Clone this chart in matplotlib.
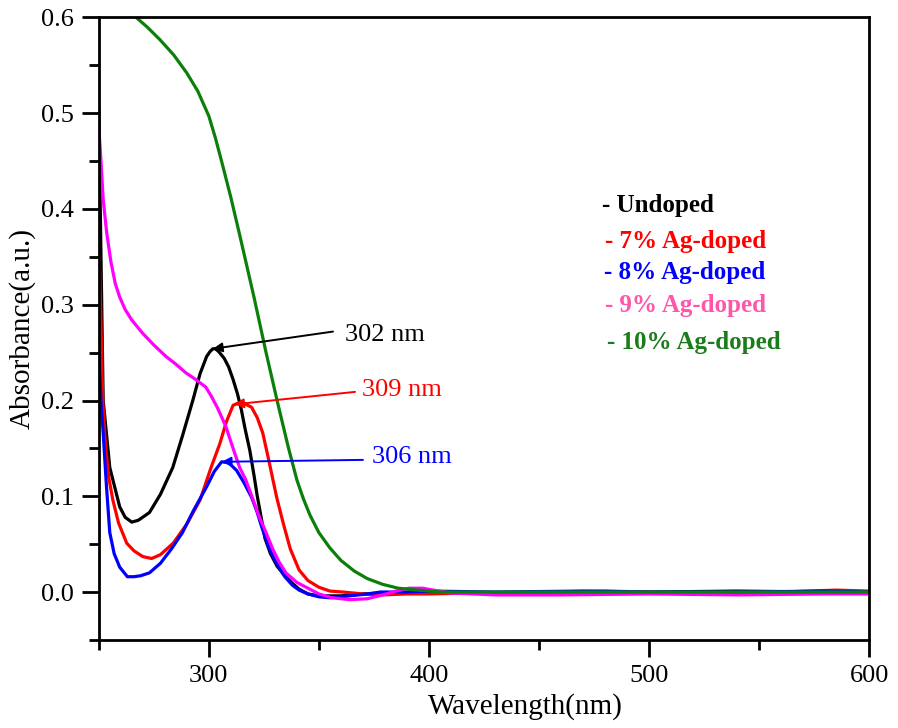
#!/usr/bin/env python3
'''UV-vis absorbance of undoped and Ag-doped samples'''
import matplotlib
matplotlib.use('Agg')
import matplotlib.pyplot as plt
from matplotlib.ticker import MultipleLocator

plt.rcParams['font.family'] = ['Liberation Serif', 'DejaVu Serif']

# spectra (wavelength nm, absorbance a.u.)
x_undoped = [250, 251, 252, 255, 259.5, 262, 265, 268, 273, 278, 283.6, 288, 292.7,
             296, 299, 300.5, 301.8, 303, 304.5, 307, 309, 311, 313, 314.8, 316.5,
             318.6, 320.5, 322, 324, 325.5, 328, 331, 334.5, 338, 341, 345, 350, 360,
             370, 380, 400, 430, 460, 500, 540, 580, 600]
y_undoped = [0.505, 0.35, 0.2, 0.13, 0.089, 0.078, 0.073, 0.075, 0.083, 0.102, 0.13,
             0.163, 0.2, 0.228, 0.246, 0.251, 0.254, 0.254, 0.251, 0.244, 0.235,
             0.222, 0.207, 0.19, 0.17, 0.148, 0.122, 0.1, 0.075, 0.056, 0.04, 0.027,
             0.017, 0.009, 0.003, -0.002, -0.004, -0.004, -0.002, -0.001, 0.0,
             -0.001, 0.0, 0.0, 0.001, 0.0, 0.0]

x_ag7 = [250, 251, 251.8, 253, 254.5, 256.4, 259, 262.7, 266, 270, 274, 278, 283.8,
         290, 296, 301, 305, 308, 311, 313, 316, 319.4, 322, 324.5, 327, 330.8, 334,
         337, 341, 345, 350, 355, 361, 370, 379, 390, 400, 420, 450, 480, 520, 560,
         585, 600]
y_ag7 = [0.37, 0.28, 0.2, 0.155, 0.12, 0.096, 0.072, 0.051, 0.043, 0.037, 0.035,
         0.039, 0.051, 0.071, 0.096, 0.13, 0.155, 0.178, 0.195, 0.197, 0.197, 0.193,
         0.182, 0.166, 0.14, 0.099, 0.07, 0.045, 0.023, 0.012, 0.005, 0.001, 0.0,
         -0.002, -0.003, -0.002, -0.002, -0.001, 0.0, 0.001, -0.001, 0.0, 0.002, 0.001]

x_ag8 = [250, 251, 252, 253.5, 255, 257, 259.5, 263, 266, 269, 273, 278, 283, 288,
         293, 299, 302.5, 305.8, 309, 312.6, 316, 319.4, 322, 324, 327, 330, 334.5,
         338, 341, 345, 350, 355, 364, 372, 378, 390, 400, 430, 470, 500, 540, 580,
         600]
y_ag8 = [0.25, 0.2, 0.166, 0.11, 0.062, 0.04, 0.026, 0.016, 0.016, 0.017, 0.02,
         0.03, 0.045, 0.062, 0.085, 0.11, 0.126, 0.136, 0.135, 0.127, 0.114, 0.099,
         0.083, 0.068, 0.048, 0.033, 0.016, 0.007, 0.002, -0.002, -0.005, -0.006,
         -0.004, -0.002, 0.0, 0.0, 0.001, 0.0, 0.001, 0.0, 0.0, 0.001, 0.0]

x_ag9 = [250, 251, 252, 253.6, 255.5, 257.5, 259.5, 262, 265, 270, 275, 280.5, 285,
         289.5, 294, 298.6, 301, 304, 307.7, 311, 314, 316.8, 320, 323, 326, 329,
         332, 335, 340, 345, 350, 356, 364, 372, 379, 385, 391, 397, 402, 410, 430,
         460, 500, 540, 580, 600]
y_ag9 = [0.486, 0.45, 0.41, 0.375, 0.345, 0.322, 0.308, 0.295, 0.284, 0.27, 0.258,
         0.246, 0.238, 0.229, 0.222, 0.214, 0.205, 0.192, 0.173, 0.15, 0.13, 0.117,
         0.097, 0.078, 0.062, 0.045, 0.031, 0.02, 0.01, 0.004, -0.002, -0.006,
         -0.008, -0.007, -0.003, 0.001, 0.004, 0.004, 0.002, -0.001, -0.003, -0.003,
         -0.002, -0.003, -0.002, -0.002]

x_ag10 = [265, 267, 272, 277.7, 284, 290, 295, 300, 303, 306, 310, 314, 317, 320.5,
          326, 331, 336, 340, 343, 346, 350, 355, 360, 366, 372, 379, 386, 395,
          405, 420, 450, 500, 550, 600]
y_ag10 = [0.62, 0.6, 0.59, 0.577, 0.561, 0.542, 0.523, 0.497, 0.474, 0.448, 0.412,
          0.373, 0.343, 0.308, 0.25, 0.2, 0.152, 0.117, 0.097, 0.08, 0.062, 0.046,
          0.033, 0.022, 0.014, 0.008, 0.004, 0.002, 0.0, 0.0, 0.0, 0.0, 0.0, 0.0]

series = [(x_undoped, y_undoped, 'black'),
          (x_ag7, y_ag7, '#ff0000'),
          (x_ag8, y_ag8, '#0000ff'),
          (x_ag9, y_ag9, '#ff00ff'),
          (x_ag10, y_ag10, '#0a800a')]

labels = ['- Undoped', '- 7% Ag-doped', '- 8% Ag-doped', '- 9% Ag-doped', '- 10% Ag-doped']
label_colors = ['black', '#ff0000', '#0000ff', '#ff55aa', '#1a7d1a']

# peak annotations: text, peak position, colour
peaks = [('302 nm', 301.8, 0.254, 'black'),
         ('309 nm', 311.5, 0.196, '#ff0000'),
         ('306 nm', 305.8, 0.136, '#0000ff')]

fig = plt.figure(figsize=(8.98, 7.28), dpi=100)
ax = fig.add_axes([0.110, 0.121, 0.858, 0.855])

for x, y, c in series:
    ax.plot(x, y, color=c, lw=2.3, solid_joinstyle='round')

ax.set_xlim(250, 600)
ax.set_ylim(-0.05, 0.6)
ax.xaxis.set_major_locator(MultipleLocator(100))
ax.xaxis.set_minor_locator(MultipleLocator(50))
ax.yaxis.set_major_locator(MultipleLocator(0.1))
ax.yaxis.set_minor_locator(MultipleLocator(0.05))
ax.tick_params(which='both', direction='out', top=False, right=False, width=2)
ax.tick_params(which='major', length=12, labelsize=19, pad=6)
ax.tick_params(which='minor', length=7)
for s in ax.spines.values():
    s.set_linewidth(2)

ax.set_xlabel('Wavelength(nm)', fontsize=21, labelpad=1)
ax.xaxis.set_label_coords(0.554, -0.085)
ax.set_ylabel('Absorbance(a.u.)', fontsize=21, labelpad=4)

# peak arrows and labels
text_pos = [(356.4, 0.272, 361.8, 0.2685),
            (366.4, 0.209, 369.5, 0.2105),
            (370.0, 0.138, 374.0, 0.1414)]
for (txt, px, py, c), (ax0, ay0, tx, ty) in zip(peaks, text_pos):
    ax.annotate('', xy=(px, py), xytext=(ax0, ay0),
                arrowprops=dict(arrowstyle='-|>', color=c, lw=1.4,
                                mutation_scale=14, shrinkA=0, shrinkB=0))
    ax.text(tx, ty, txt, color=c, fontsize=19, va='center', ha='left')

# coloured text legend
leg_x = [478.6, 480.0, 479.5, 480.0, 481.0]
leg_y = [0.404, 0.366, 0.334, 0.299, 0.261]
for lab, c, lx, ly in zip(labels, label_colors, leg_x, leg_y):
    ax.text(lx, ly, lab, color=c, fontsize=18, fontweight='bold', va='center', ha='left')

fig.savefig('out.png', dpi=100)
